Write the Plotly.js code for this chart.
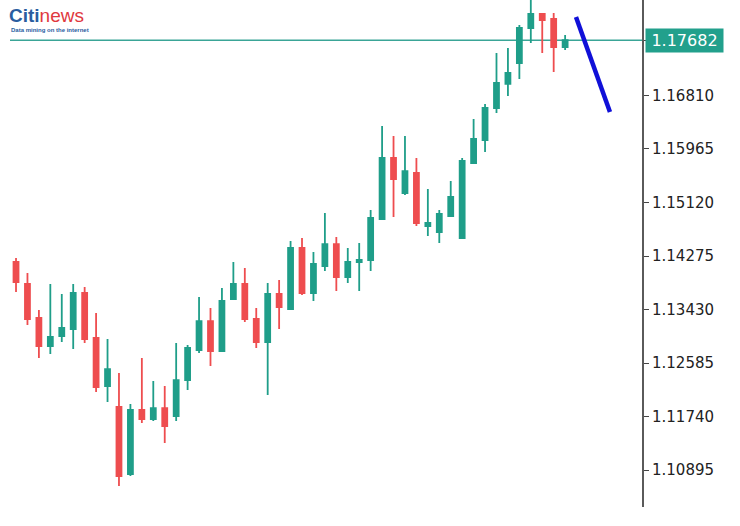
<!DOCTYPE html>
<html>
<head>
<meta charset="utf-8">
<script src="https://cdn.plot.ly/plotly-3.0.1.min.js"></script>
<style>
  html, body { margin: 0; padding: 0; background: #fff; }
  #chart { width: 740px; height: 526px; }
</style>
</head>
<body>
<div id="chart"></div>
<script>
const openP = [1.14180, 1.13833, 1.13296, 1.12853, 1.13011, 1.13122, 1.13691, 1.12980, 1.12222, 1.11890, 1.10832, 1.11843, 1.11701, 1.11874, 1.11748, 1.12316, 1.12790, 1.13248, 1.12775, 1.13596, 1.13833, 1.13280, 1.12917, 1.13675, 1.13438, 1.14401, 1.13691, 1.14117, 1.14464, 1.13943, 1.14180, 1.14212, 1.14859, 1.15823, 1.15270, 1.15586, 1.14749, 1.14654, 1.14907, 1.14559, 1.15744, 1.16107, 1.16612, 1.16992, 1.17323, 1.17876, 1.18097, 1.18018, 1.17576];
const highP = [1.14243, 1.14006, 1.13422, 1.13833, 1.13675, 1.13833, 1.13785, 1.13375, 1.12964, 1.12427, 1.11937, 1.12664, 1.12301, 1.12222, 1.12901, 1.12869, 1.13627, 1.13454, 1.13769, 1.14180, 1.14085, 1.13454, 1.13849, 1.13896, 1.14512, 1.14559, 1.14338, 1.14954, 1.14575, 1.14401, 1.14480, 1.15001, 1.16328, 1.16170, 1.16170, 1.15823, 1.15333, 1.15001, 1.15460, 1.15823, 1.16439, 1.16676, 1.17481, 1.17560, 1.17923, 1.18397, 1.18113, 1.18113, 1.17765];
const lowP = [1.13706, 1.13185, 1.12664, 1.12727, 1.12917, 1.12806, 1.12901, 1.12127, 1.11969, 1.10642, 1.10800, 1.11637, 1.11669, 1.11321, 1.11669, 1.12158, 1.12743, 1.12538, 1.12759, 1.13580, 1.13233, 1.12822, 1.12080, 1.13122, 1.13422, 1.13659, 1.13564, 1.14038, 1.13722, 1.13849, 1.13722, 1.14038, 1.14844, 1.14891, 1.15238, 1.14749, 1.14591, 1.14480, 1.14891, 1.14543, 1.15728, 1.15918, 1.16534, 1.16802, 1.17071, 1.17639, 1.17481, 1.17181, 1.17529];
const closeP = [1.13864, 1.13280, 1.12853, 1.12996, 1.13138, 1.13691, 1.12964, 1.12206, 1.12490, 1.10800, 1.11843, 1.11701, 1.11874, 1.11590, 1.12316, 1.12822, 1.13248, 1.12775, 1.13564, 1.13833, 1.13280, 1.12917, 1.13675, 1.13469, 1.14401, 1.13691, 1.14149, 1.14464, 1.13943, 1.14180, 1.14212, 1.14875, 1.15823, 1.15491, 1.15617, 1.14796, 1.14796, 1.14938, 1.15207, 1.15775, 1.16123, 1.16612, 1.17007, 1.17165, 1.17876, 1.18097, 1.18002, 1.17576, 1.17682];

const tickValues = [1.10895, 1.11740, 1.12585, 1.13430, 1.14275, 1.15120, 1.15965, 1.16810, 1.17682];
const tickLabels = ["1.10895", "1.11740", "1.12585", "1.13430", "1.14275", "1.15120", "1.15965", "1.16810", ""];
const currentPrice = 1.17682;
const currentLabel = "1.17682";

const trendX = [48.95, 51.92];
const trendY = [1.18050, 1.16549];

const idx = openP.map((_, i) => i);

const GREEN = '#1f9e89';
const RED = '#ee4d4f';

const traces = [
  {
    type: 'candlestick',
    x: idx, open: openP, high: highP, low: lowP, close: closeP,
    increasing: { line: { color: GREEN, width: 1.8 }, fillcolor: GREEN },
    decreasing: { line: { color: RED, width: 1.8 }, fillcolor: RED },
    whiskerwidth: 0,
    hoverinfo: 'skip',
    showlegend: false
  },
  {
    type: 'scatter', mode: 'lines',
    x: trendX, y: trendY,
    line: { color: '#1010d8', width: 4.5 },
    hoverinfo: 'skip', showlegend: false
  }
];

const layout = {
  width: 740, height: 526,
  margin: { l: 0, r: 98, t: 0, b: 19 },
  paper_bgcolor: '#ffffff', plot_bgcolor: '#ffffff',
  boxgap: 0.38,
  showlegend: false,
  xaxis: {
    range: [-1.40, 54.72],
    showgrid: false, zeroline: false, showticklabels: false, ticks: '',
    showline: false,
    rangeslider: { visible: false },
    fixedrange: true
  },
  yaxis: {
    side: 'right',
    range: [1.10311, 1.18318],
    showgrid: false, zeroline: false,
    showline: true, linecolor: '#5a5a5a', linewidth: 2,
    ticks: 'outside', ticklen: 5, tickwidth: 1, tickcolor: '#444',
    tickmode: 'array', tickvals: tickValues, ticktext: tickLabels,
    tickfont: { family: 'DejaVu Sans', size: 15, color: '#222222' },
    fixedrange: true
  },
  shapes: [
    {
      type: 'line', layer: 'below',
      xref: 'paper', x0: 10 / 642, x1: 1,
      yref: 'y', y0: currentPrice, y1: currentPrice,
      line: { color: '#3aa597', width: 1.5 }
    }
  ],
  annotations: [
    {
      xref: 'paper', x: 1, xanchor: 'left', xshift: 3,
      yref: 'y', y: currentPrice, yanchor: 'middle',
      text: currentLabel, showarrow: false,
      bgcolor: '#22a08c', borderpad: 3, width: 71, height: 17,
      font: { family: 'DejaVu Sans', size: 16, color: '#ffffff' }
    },
    {
      xref: 'paper', x: 8 / 642, xanchor: 'left',
      yref: 'paper', y: 1 - 4 / 507, yanchor: 'top',
      text: '<b><span style="color:#2a5d9f">Citi</span></b><span style="color:#e0393e">news</span>',
      showarrow: false, borderpad: 0,
      font: { family: 'Liberation Sans', size: 19 }
    },
    {
      xref: 'paper', x: 10 / 642, xanchor: 'left',
      yref: 'paper', y: 1 - 26 / 507, yanchor: 'top',
      text: '<b>Data mining on the internet</b>',
      showarrow: false, borderpad: 0,
      font: { family: 'Liberation Sans', size: 6, color: '#2a5d9f' }
    }
  ]
};

Plotly.newPlot('chart', traces, layout, { displayModeBar: false, staticPlot: true });
</script>
</body>
</html>
